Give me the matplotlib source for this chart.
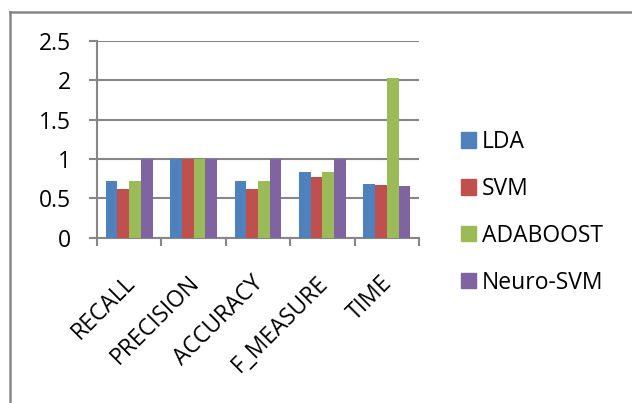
import matplotlib
matplotlib.use("Agg")
import matplotlib.pyplot as plt
import numpy as np
from matplotlib.lines import Line2D

categories = ["RECALL", "PRECISION", "ACCURACY", "F_MEASURE", "TIME"]
series_names = ["LDA", "SVM", "ADABOOST", "Neuro-SVM"]
lda = [0.717, 1.0, 0.717, 0.84, 0.68]
svm = [0.62, 1.0, 0.62, 0.77, 0.675]
adaboost = [0.717, 1.0, 0.717, 0.84, 2.03]
neuro_svm = [1.0, 1.0, 1.0, 1.0, 0.66]
y_ticks = [0, 0.5, 1, 1.5, 2, 2.5]
y_tick_labels = ["0", "0.5", "1", "1.5", "2", "2.5"]

colors = ["#4F81BD", "#C0504D", "#9BBB59", "#8064A2"]
grid_color = "#868686"
fs = 16.5

plt.rcParams["font.family"] = ["Open Sans", "DejaVu Sans"]

fig = plt.figure(figsize=(6.32, 4.03), dpi=100)
ax = fig.add_axes([0.1535, 0.410, 0.5095, 0.488])

values = [lda, svm, adaboost, neuro_svm]
x = np.arange(len(categories))
bw = 0.182
for i, (vals, name, c) in enumerate(zip(values, series_names, colors)):
    ax.bar(x + (i - 1.5) * bw, vals, width=bw, color=c, label=name,
           edgecolor="none", zorder=3)

ax.set_xlim(-0.5, len(categories) - 0.5)
ax.set_ylim(0, 2.5)
ax.set_yticks(y_ticks)
ax.set_yticklabels(y_tick_labels, fontsize=fs)
ax.yaxis.grid(True, color=grid_color, linewidth=1.5, zorder=0)

# category boundaries carry the tick marks; names sit on invisible minor ticks
ax.set_xticks(np.arange(len(categories) + 1) - 0.5)
ax.set_xticklabels([])
ax.set_xticks(x - 0.1, minor=True)
ax.set_xticklabels(categories, minor=True, rotation=45, ha="right",
                   va="top", rotation_mode="anchor", fontsize=fs)
ax.tick_params(axis="x", which="minor", length=0, pad=24)
ax.tick_params(axis="x", which="major", length=6, width=1.5, color=grid_color)
ax.tick_params(axis="y", length=6, width=1.5, color=grid_color, pad=13)

for side in ["top", "right"]:
    ax.spines[side].set_visible(False)
for side in ["left", "bottom"]:
    ax.spines[side].set_color(grid_color)
    ax.spines[side].set_linewidth(1.5)

handles = [plt.Rectangle((0, 0), 1, 1, color=c) for c in colors]
fig.legend(handles, series_names, loc="upper left",
           bbox_to_anchor=(461 / 632, 1 - 130 / 403), frameon=False, fontsize=fs,
           handlelength=0.65, handleheight=0.65, labelspacing=1.0,
           handletextpad=0.25, borderpad=0, borderaxespad=0)

# outer chart frame (left and top edges)
fig.add_artist(Line2D([10.5 / 632, 10.5 / 632], [0, 1 - 11.5 / 403],
                      transform=fig.transFigure, color=grid_color, linewidth=1.8))
fig.add_artist(Line2D([10.5 / 632, 1], [1 - 11.5 / 403, 1 - 11.5 / 403],
                      transform=fig.transFigure, color=grid_color, linewidth=1.8))

fig.savefig("out.png", dpi=100)
